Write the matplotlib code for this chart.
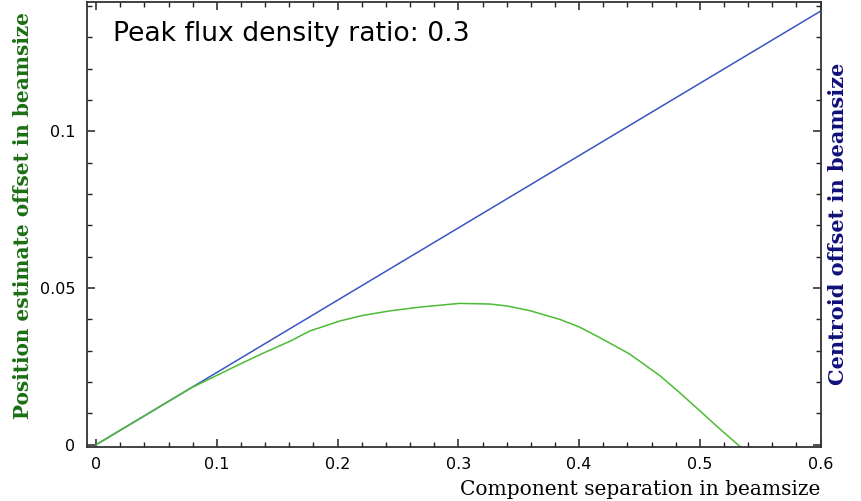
import matplotlib
matplotlib.use('Agg')
import numpy as np
import matplotlib.pyplot as plt
from matplotlib.ticker import MultipleLocator, FuncFormatter

flux_ratio = 0.3
# component separation (beamsize) for the two curves
sep_centroid = [0.0, 0.6]
centroid_offset = [0.0, 0.1384]
sep_pos = [0.0, 0.04, 0.078, 0.119, 0.14, 0.161, 0.177, 0.202, 0.22, 0.243, 0.27, 0.301,
           0.326, 0.34, 0.359, 0.384, 0.40, 0.417, 0.442, 0.467, 0.483, 0.50, 0.5166, 0.533]
pos_offset = [0.0, 0.0092, 0.0180, 0.0257, 0.0295, 0.0331, 0.0363, 0.0395, 0.0412, 0.0427,
              0.0440, 0.0451, 0.0449, 0.0443, 0.0428, 0.0400, 0.0376, 0.0342, 0.0289, 0.0220,
              0.0167, 0.0108, 0.0050, -0.0005]

fig = plt.figure(figsize=(8.62, 5.01), dpi=100)
ax = fig.add_axes([0.101, 0.108, 0.851, 0.888])

ax.plot(sep_centroid, centroid_offset, color='#3a55c4', lw=1.1)
ax.plot(sep_pos, pos_offset, color='#4cbb35', lw=1.1)

ax.set_xlim(-0.0075, 0.6)
ax.set_ylim(-0.0007, 0.1413)
ax.xaxis.set_major_locator(MultipleLocator(0.1))
ax.xaxis.set_minor_locator(MultipleLocator(0.02))
ax.yaxis.set_major_locator(MultipleLocator(0.05))
ax.yaxis.set_minor_locator(MultipleLocator(0.01))
fmt = FuncFormatter(lambda v, p: '%g' % round(v, 3))
ax.xaxis.set_major_formatter(fmt)
ax.yaxis.set_major_formatter(fmt)
ax.tick_params(which='both', direction='in', top=True, right=True, labelsize=11.5, color='#222222')
ax.tick_params(which='major', length=6, width=1.1)
ax.tick_params(which='minor', length=3.5, width=1.0)
ax.tick_params(axis='x', pad=7)
ax.tick_params(axis='y', pad=8.5)
for s in ax.spines.values():
    s.set_color('#333333')
    s.set_linewidth(1.3)

ax.text(0.0355, 0.928, 'Peak flux density ratio: %g' % flux_ratio, transform=ax.transAxes,
        fontsize=19.2, va='center', ha='left')

ax.set_xlabel('Component separation in beamsize', family='DejaVu Serif', fontsize=14.5)
ax.xaxis.set_label_coords(1.0, -0.075)
ax.xaxis.label.set_horizontalalignment('right')
ax.set_ylabel('Position estimate offset in beamsize', family='DejaVu Serif', fontweight='bold',
              fontsize=14.4, color='#1c6e14')
ax.yaxis.set_label_coords(-0.0737, 0.519)

fig.text(0.972, 0.554, 'Centroid offset in beamsize', family='DejaVu Serif', fontweight='bold',
         fontsize=15.0, color='#10107a', rotation=90, va='center', ha='center')

fig.savefig('out.png', dpi=100)
